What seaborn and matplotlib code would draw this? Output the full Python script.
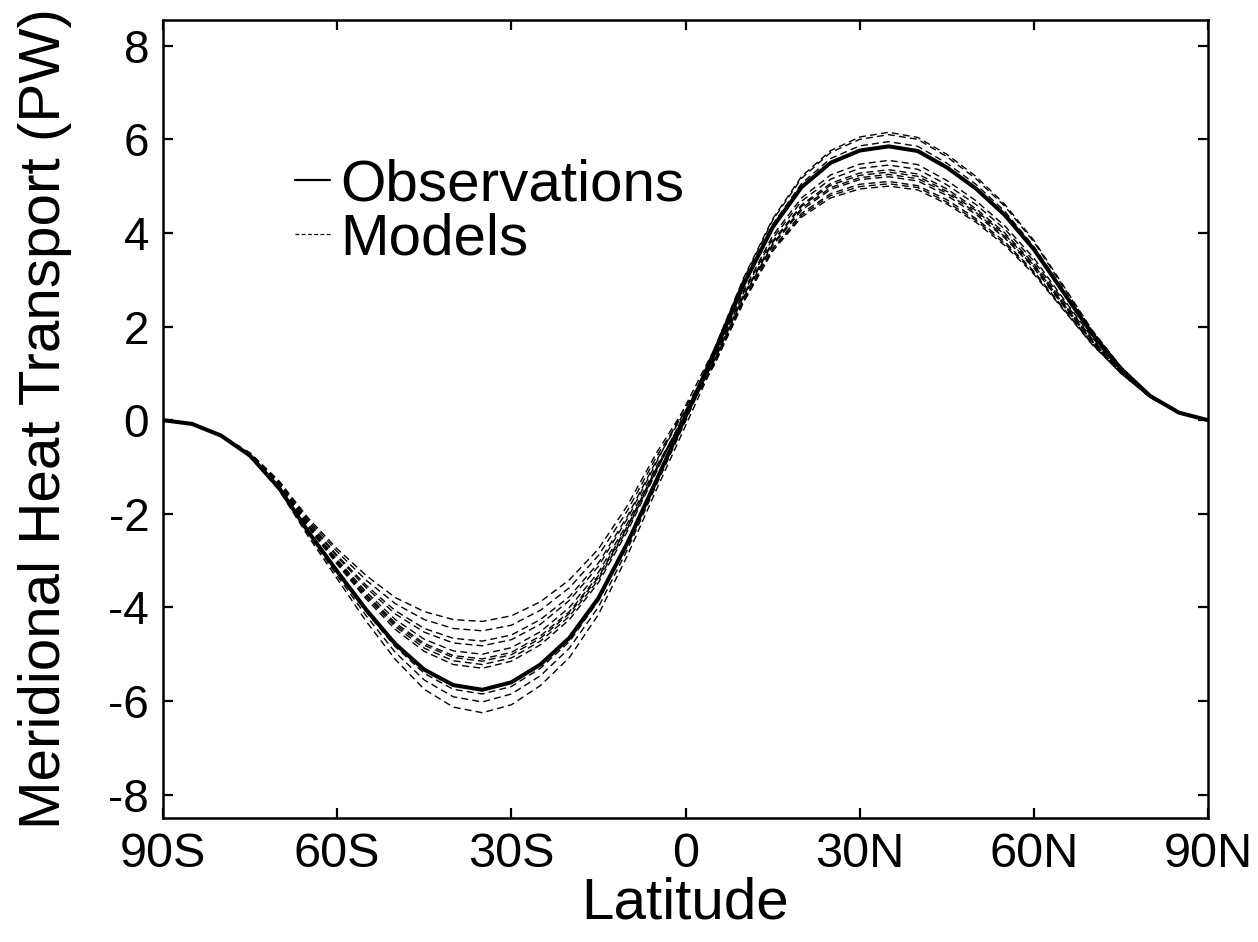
import matplotlib
matplotlib.use("Agg")
import matplotlib.pyplot as plt
from matplotlib.lines import Line2D
import seaborn as sns
import pandas as pd

# latitude grid, 90S .. 90N every 5 degrees
latitudes = list(range(-90, 95, 5))

observations = [
    0.00, -0.08, -0.33, -0.76, -1.45, -2.38, -3.23, -4.05, -4.78, -5.33,
    -5.66, -5.76, -5.60, -5.22, -4.65, -3.80, -2.62, -1.28, 0.08, 1.45,
    2.90, 4.12, 4.98, 5.50, 5.76, 5.85, 5.75, 5.40, 4.95, 4.38,
    3.65, 2.75, 1.85, 1.10, 0.52, 0.16, 0.00,
]

model_01 = [
    0.00, -0.08, -0.32, -0.70, -1.30, -2.09, -2.75, -3.32, -3.79, -4.09,
    -4.26, -4.30, -4.18, -3.88, -3.41, -2.75, -1.82, -0.70, 0.28, 1.27,
    2.63, 3.76, 4.53, 4.97, 5.18, 5.25, 5.16, 4.85, 4.44, 3.92,
    3.28, 2.48, 1.69, 1.03, 0.50, 0.16, 0.00,
]
model_02 = [
    0.00, -0.08, -0.32, -0.71, -1.32, -2.13, -2.81, -3.42, -3.92, -4.26,
    -4.45, -4.50, -4.38, -4.06, -3.58, -2.89, -1.93, -0.78, 0.21, 1.21,
    2.54, 3.64, 4.38, 4.80, 4.99, 5.05, 4.97, 4.66, 4.27, 3.77,
    3.15, 2.39, 1.63, 1.00, 0.49, 0.16, 0.00,
]
model_03 = [
    0.00, -0.08, -0.32, -0.72, -1.35, -2.17, -2.89, -3.53, -4.07, -4.45,
    -4.66, -4.72, -4.59, -4.26, -3.77, -3.05, -2.05, -0.86, 0.21, 1.30,
    2.67, 3.82, 4.60, 5.06, 5.28, 5.35, 5.26, 4.94, 4.52, 4.00,
    3.34, 2.52, 1.71, 1.04, 0.50, 0.16, 0.00,
]
model_04 = [
    0.00, -0.08, -0.32, -0.72, -1.36, -2.19, -2.92, -3.58, -4.14, -4.53,
    -4.76, -4.82, -4.69, -4.36, -3.85, -3.12, -2.10, -0.90, 0.31, 1.53,
    3.01, 4.27, 5.17, 5.72, 6.00, 6.10, 6.00, 5.63, 5.16, 4.57,
    3.81, 2.86, 1.92, 1.13, 0.53, 0.16, 0.00,
]
model_05 = [
    0.00, -0.08, -0.32, -0.73, -1.37, -2.23, -2.98, -3.67, -4.26, -4.68,
    -4.93, -5.00, -4.86, -4.52, -4.00, -3.25, -2.20, -0.98, 0.10, 1.19,
    2.52, 3.61, 4.34, 4.75, 4.94, 5.00, 4.92, 4.62, 4.23, 3.73,
    3.12, 2.37, 1.62, 1.00, 0.49, 0.16, 0.00,
]
model_06 = [
    0.00, -0.08, -0.32, -0.73, -1.38, -2.25, -3.01, -3.72, -4.33, -4.77,
    -5.03, -5.10, -4.96, -4.61, -4.09, -3.32, -2.26, -1.02, 0.15, 1.33,
    2.72, 3.88, 4.68, 5.15, 5.38, 5.45, 5.36, 5.03, 4.61, 4.08,
    3.40, 2.57, 1.74, 1.05, 0.50, 0.16, 0.00,
]
model_07 = [
    0.00, -0.08, -0.32, -0.74, -1.40, -2.27, -3.05, -3.78, -4.41, -4.87,
    -5.14, -5.22, -5.08, -4.72, -4.19, -3.41, -2.32, -1.06, 0.11, 1.28,
    2.65, 3.79, 4.57, 5.02, 5.23, 5.30, 5.21, 4.89, 4.48, 3.96,
    3.31, 2.50, 1.70, 1.03, 0.50, 0.16, 0.00,
]
model_08 = [
    0.00, -0.08, -0.33, -0.74, -1.40, -2.29, -3.08, -3.82, -4.47, -4.94,
    -5.22, -5.30, -5.15, -4.80, -4.26, -3.47, -2.37, -1.10, 0.19, 1.48,
    2.95, 4.18, 5.06, 5.59, 5.86, 5.95, 5.85, 5.49, 5.04, 4.46,
    3.71, 2.80, 1.88, 1.11, 0.52, 0.16, 0.00,
]
model_09 = [
    0.00, -0.08, -0.33, -0.76, -1.46, -2.40, -3.26, -4.10, -4.84, -5.41,
    -5.75, -5.85, -5.69, -5.30, -4.73, -3.86, -2.67, -1.32, 0.11, 1.54,
    3.04, 4.30, 5.21, 5.76, 6.05, 6.15, 6.04, 5.68, 5.21, 4.61,
    3.84, 2.89, 1.93, 1.14, 0.53, 0.16, 0.00,
]
model_10 = [
    0.00, -0.08, -0.33, -0.77, -1.48, -2.43, -3.32, -4.18, -4.96, -5.55,
    -5.91, -6.02, -5.85, -5.46, -4.87, -3.99, -2.76, -1.38, -0.02, 1.36,
    2.76, 3.94, 4.75, 5.24, 5.47, 5.55, 5.46, 5.12, 4.69, 4.15,
    3.46, 2.61, 1.77, 1.06, 0.51, 0.16, 0.00,
]
model_11 = [
    0.00, -0.08, -0.33, -0.78, -1.50, -2.48, -3.39, -4.30, -5.11, -5.75,
    -6.13, -6.25, -6.08, -5.67, -5.07, -4.15, -2.89, -1.48, -0.12, 1.25,
    2.61, 3.73, 4.49, 4.93, 5.14, 5.20, 5.11, 4.80, 4.40, 3.89,
    3.25, 2.46, 1.67, 1.02, 0.49, 0.16, 0.00,
]
model_12 = [
    0.00, -0.08, -0.32, -0.74, -1.39, -2.26, -3.03, -3.74, -4.37, -4.81,
    -5.07, -5.15, -5.01, -4.66, -4.13, -3.36, -2.28, -1.04, 0.09, 1.22,
    2.56, 3.67, 4.42, 4.84, 5.04, 5.10, 5.01, 4.71, 4.31, 3.81,
    3.18, 2.41, 1.65, 1.01, 0.49, 0.16, 0.00,
]

models = {
    "M01": model_01, "M02": model_02, "M03": model_03, "M04": model_04,
    "M05": model_05, "M06": model_06, "M07": model_07, "M08": model_08,
    "M09": model_09, "M10": model_10, "M11": model_11, "M12": model_12,
}

x_ticks = [-90, -60, -30, 0, 30, 60, 90]
x_tick_labels = ["90S", "60S", "30S", "0", "30N", "60N", "90N"]
y_ticks = [-8, -6, -4, -2, 0, 2, 4, 6, 8]


def main():
    sns.set_style("ticks")
    plt.rcParams["font.family"] = ["Liberation Sans", "DejaVu Sans"]
    plt.rcParams["text.color"] = "black"
    plt.rcParams["axes.labelcolor"] = "black"
    plt.rcParams["xtick.color"] = "black"
    plt.rcParams["ytick.color"] = "black"

    rows = []
    for name, values in models.items():
        for lat, v in zip(latitudes, values):
            rows.append({"lat": lat, "mht": v, "model": name})
    model_df = pd.DataFrame(rows)
    obs_df = pd.DataFrame({"lat": latitudes, "mht": observations})

    fig = plt.figure(figsize=(12.58, 9.42), dpi=100)
    ax = fig.add_axes([0.1296, 0.1316, 0.8307, 0.8472])

    sns.lineplot(data=model_df, x="lat", y="mht", units="model",
                 estimator=None, color="black", linewidth=1.0,
                 linestyle=(0, (5, 3)), ax=ax)
    sns.lineplot(data=obs_df, x="lat", y="mht", color="black",
                 linewidth=2.9, ax=ax)
    for line in ax.get_lines():
        line.set_solid_joinstyle("round")
        line.set_dash_joinstyle("round")

    ax.set_xlim(-90, 90)
    ax.set_ylim(-8.5, 8.55)
    ax.set_xticks(x_ticks)
    ax.set_xticklabels(x_tick_labels)
    ax.set_yticks(y_ticks)
    ax.set_yticklabels([str(t) for t in y_ticks])
    ax.tick_params(direction="in", length=7, width=1.6, labelsize=33,
                   top=True, right=True, pad=10)
    ax.tick_params(axis="x", labelsize=35)
    for s in ax.spines.values():
        s.set_linewidth(1.8)
        s.set_color("black")

    ax.set_xlabel("Latitude", fontsize=42, labelpad=0)
    ax.set_ylabel("Meridional Heat Transport (PW)", fontsize=42, labelpad=26)

    handles = [
        Line2D([], [], color="black", linewidth=1.6),
        Line2D([], [], color="black", linewidth=0.9, linestyle=(0, (3, 2))),
    ]
    ax.legend(handles, ["Observations", "Models"], loc="upper left",
              bbox_to_anchor=(0.126, 0.826), frameon=False, fontsize=42,
              handlelength=0.6, handletextpad=0.18, labelspacing=0.0,
              borderaxespad=0, borderpad=0)

    fig.savefig("out.png", dpi=100)


if __name__ == "__main__":
    main()
